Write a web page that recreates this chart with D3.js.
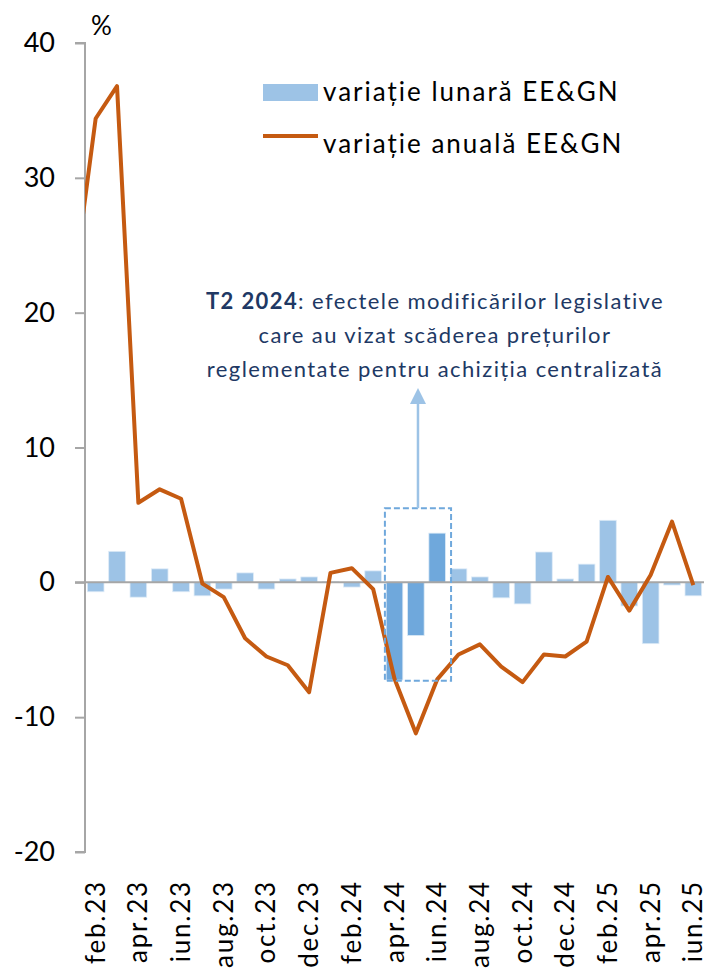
<!DOCTYPE html>
<html>
<head>
<meta charset="utf-8">
<script src="https://cdn.jsdelivr.net/npm/d3@7"></script>
<style>
  html, body { margin: 0; padding: 0; background: #fff; }
  svg { display: block; font-family: Lato, "Open Sans", sans-serif; }
</style>
</head>
<body>
<div id="chart"></div>
<script>
const months = ["feb.23", "mar.23", "apr.23", "mai.23", "iun.23", "iul.23", "aug.23", "sep.23", "oct.23", "nov.23", "dec.23",
  "ian.24", "feb.24", "mar.24", "apr.24", "mai.24", "iun.24", "iul.24", "aug.24", "sep.24", "oct.24", "nov.24", "dec.24",
  "ian.25", "feb.25", "mar.25", "apr.25", "mai.25", "iun.25"];
const monthly = [-0.7, 2.3, -1.1, 1.0, -0.7, -1.0, -0.5, 0.7, -0.5, 0.25, 0.4, 0.05, -0.35, 0.85,
  -7.25, -3.95, 3.65, 1.0, 0.4, -1.15, -1.6, 2.25, 0.25, 1.35, 4.6, -1.75, -4.55, -0.2, -1.0];
const annual = [34.4, 36.8, 5.9, 6.9, 6.2, -0.1, -1.1, -4.15, -5.5, -6.15, -8.15, 0.7, 1.05, -0.5,
  -7.15, -11.2, -7.2, -5.35, -4.6, -6.25, -7.4, -5.35, -5.5, -4.4, 0.4, -2.1, 0.55, 4.5, -0.2];
const annualBefore = 22.4; // ian.23, cut off by the axis
const highlighted = ["apr.24", "mai.24", "iun.24"];
const yTicks = [-20, -10, 0, 10, 20, 30, 40];
const seriesNames = ["variație lunară EE&GN", "variație anuală EE&GN"];
const noteLines = [
  [{ t: "T2 2024", b: true }, { t: ": efectele modificărilor legislative", b: false }],
  [{ t: "care au vizat scăderea prețurilor", b: false }],
  [{ t: "reglementate pentru achiziția centralizată", b: false }]
];
const noteBox = { from: "apr.24", to: "iun.24", top: 5.5, bottom: -7.3 };

const width = 712, height = 972;
const plot = { left: 85, right: 704, top: 43, bottom: 852 };
const barColor = "#9dc3e6", barDark = "#6fa8dc", lineColor = "#c55a11", axisColor = "#a6a6a6";

const svg = d3.select("#chart").append("svg").attr("width", width).attr("height", height);

const x = d3.scaleLinear().domain([-0.5, months.length - 0.5]).range([plot.left, plot.right]);
const y = d3.scaleLinear().domain([-20, 40]).range([plot.bottom, plot.top]);
const step = x(1) - x(0);
const barW = step * 0.78;

svg.append("defs").append("clipPath").attr("id", "plotClip")
  .append("rect").attr("x", plot.left).attr("y", 0).attr("width", plot.right - plot.left).attr("height", height);

// bars
svg.append("g").selectAll("rect").data(monthly).join("rect")
  .attr("x", (d, i) => x(i) - barW / 2)
  .attr("y", (d) => y(Math.max(0, d)))
  .attr("width", barW)
  .attr("height", (d) => Math.abs(y(d) - y(0)))
  .attr("fill", (d, i) => highlighted.includes(months[i]) ? barDark : barColor)
  .attr("stroke", "#deebf7").attr("stroke-width", 0.8);

// y axis
const yAxis = svg.append("g").attr("transform", `translate(${plot.left},0)`)
  .call(d3.axisLeft(y).tickValues(yTicks).tickSize(10).tickPadding(20).tickFormat((d) => String(d)));
yAxis.select(".domain").attr("stroke", axisColor).attr("stroke-width", 2)
  .attr("d", `M-10,${y(40)}H0V${y(-20)}H-10`);
yAxis.selectAll(".tick line").attr("stroke", axisColor).attr("stroke-width", 2);
yAxis.selectAll(".tick text").attr("font-size", 27).attr("fill", "#000").attr("font-family", "Lato, sans-serif");

// zero line
svg.append("line")
  .attr("x1", plot.left - 10).attr("x2", plot.right)
  .attr("y1", y(0)).attr("y2", y(0))
  .attr("stroke", axisColor).attr("stroke-width", 2);

svg.append("text").attr("x", 91).attr("y", 35).attr("font-size", 26).text("%");

// x labels, every second month
svg.append("g").selectAll("text").data(months.filter((m, i) => i % 2 === 0)).join("text")
  .attr("transform", (d) => `translate(${x(months.indexOf(d)) + 9},${plot.bottom + 28}) rotate(-90)`)
  .attr("text-anchor", "end")
  .attr("font-size", 26)
  .attr("letter-spacing", 1.8)
  .text((d) => d);

// annual line
const line = d3.line().x((d) => x(d.i)).y((d) => y(d.v));
const linePoints = [{ i: -1, v: annualBefore }].concat(annual.map((v, i) => ({ i, v })));
svg.append("path").datum(linePoints)
  .attr("clip-path", "url(#plotClip)")
  .attr("d", line)
  .attr("fill", "none").attr("stroke", lineColor).attr("stroke-width", 4).attr("stroke-linejoin", "round");

// annotation box and arrow
const bx0 = x(months.indexOf(noteBox.from) - 0.45);
const bx1 = x(months.indexOf(noteBox.to) + 0.65);
svg.append("rect")
  .attr("x", bx0).attr("y", y(noteBox.top))
  .attr("width", bx1 - bx0).attr("height", y(noteBox.bottom) - y(noteBox.top))
  .attr("fill", "none").attr("stroke", barDark).attr("stroke-width", 2).attr("stroke-dasharray", "6 3");
const ax = (bx0 + bx1) / 2;
svg.append("line").attr("x1", ax).attr("x2", ax).attr("y1", y(noteBox.top)).attr("y2", 400)
  .attr("stroke", barColor).attr("stroke-width", 2.5);
svg.append("path").attr("d", `M${ax},388L${ax - 8},404L${ax + 8},404Z`).attr("fill", barColor);

const note = svg.append("g").attr("fill", "#203864").attr("font-size", 22)
  .attr("letter-spacing", 1.4).attr("text-anchor", "middle");
noteLines.forEach((parts, k) => {
  const t = note.append("text").attr("x", 435).attr("y", 309 + k * 34);
  parts.forEach((p) => t.append("tspan").attr("font-weight", p.b ? "bold" : "normal").text(p.t));
});

// legend
const legend = svg.append("g").attr("font-size", 26).attr("letter-spacing", 2);
legend.append("rect").attr("x", 263).attr("y", 84).attr("width", 55).attr("height", 17).attr("fill", barColor);
legend.append("line").attr("x1", 263).attr("x2", 318).attr("y1", 136).attr("y2", 136)
  .attr("stroke", lineColor).attr("stroke-width", 4);
legend.selectAll("text").data(seriesNames).join("text")
  .attr("x", 323).attr("y", (d, i) => 101 + i * 52)
  .text((d) => d);
</script>
</body>
</html>
